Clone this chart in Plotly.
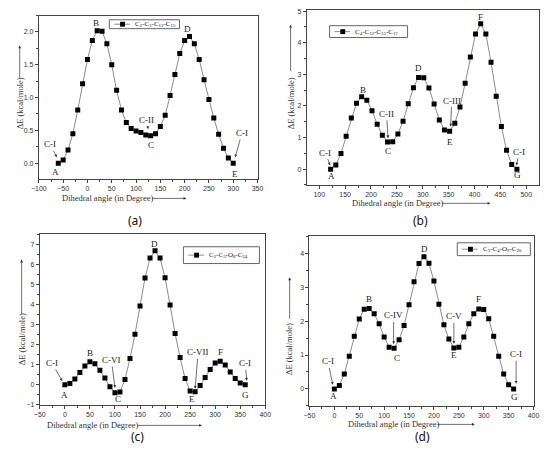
import plotly.graph_objects as go

W, H = 550, 457

# panel (a)  C2-C1-C12-C15
a_angle = [-60, -50, -40, -30, -20, -10, 0, 10, 20, 30, 40, 50, 60, 70, 80, 90, 100, 110, 120,
           130, 140, 150, 160, 170, 180, 190, 200, 210, 220, 230, 240, 250, 260, 270, 280, 290, 300]
a_energy = [0.0, 0.05, 0.2, 0.45, 0.81, 1.21, 1.58, 1.87, 2.02, 2.01, 1.82, 1.5, 1.11, 0.81, 0.62,
            0.53, 0.49, 0.47, 0.43, 0.42, 0.45, 0.56, 0.73, 1.03, 1.35, 1.67, 1.87, 1.93, 1.82, 1.58,
            1.27, 0.97, 0.69, 0.44, 0.23, 0.08, 0.0]

# panel (b)  C4-C12-C15-C17
b_angle = [122, 132, 142, 152, 162, 172, 182, 192, 202, 212, 222, 232, 242, 252, 262, 272, 282, 292,
           302, 312, 322, 332, 342, 352, 362, 372, 382, 392, 402, 412, 422, 432, 442, 452, 462, 472, 482]
b_energy = [0.0, 0.13, 0.5, 1.04, 1.62, 2.09, 2.29, 2.18, 1.85, 1.42, 1.07, 0.86, 0.87, 1.11, 1.52,
            2.07, 2.58, 2.9, 2.89, 2.57, 2.06, 1.56, 1.24, 1.2, 1.45, 1.97, 2.72, 3.55, 4.28, 4.6,
            4.28, 3.38, 2.31, 1.35, 0.6, 0.15, 0.0]

# panel (c)  C2-C3-O8-C24
c_angle = [0, 10, 20, 30, 40, 50, 60, 70, 80, 90, 100, 110, 120, 130, 140, 150, 160, 170, 180,
           190, 200, 210, 220, 230, 240, 250, 260, 270, 280, 290, 300, 310, 320, 330, 340, 350, 360]
c_energy = [0.0, 0.06, 0.28, 0.6, 0.93, 1.14, 1.04, 0.72, 0.33, -0.1, -0.4, -0.37, 0.26, 1.3, 2.52,
            3.92, 5.32, 6.32, 6.68, 6.32, 5.33, 3.97, 2.55, 1.35, 0.3, -0.32, -0.36, -0.04, 0.36,
            0.76, 1.08, 1.17, 0.98, 0.63, 0.3, 0.08, 0.0]

# panel (d)  C3-C4-O9-C20
d_angle = c_angle
d_energy = [0.0, 0.1, 0.44, 0.96, 1.55, 2.06, 2.35, 2.37, 2.22, 1.92, 1.53, 1.23, 1.2, 1.45, 1.87,
            2.48, 3.16, 3.7, 3.9, 3.71, 3.18, 2.5, 1.89, 1.47, 1.21, 1.23, 1.53, 1.92, 2.22, 2.36,
            2.34, 2.07, 1.55, 0.96, 0.44, 0.12, 0.0]

series_names = [
    "C<sub>2</sub>-C<sub>1</sub>-C<sub>12</sub>-C<sub>15</sub>",
    "C<sub>4</sub>-C<sub>12</sub>-C<sub>15</sub>-C<sub>17</sub>",
    "C<sub>2</sub>-C<sub>3</sub>-O<sub>8</sub>-C<sub>24</sub>",
    "C<sub>3</sub>-C<sub>4</sub>-O<sub>9</sub>-C<sub>20</sub>",
]
captions = ["(a)", "(b)", "(c)", "(d)"]

# point labels: (text, x, y)
a_labels = [("A", -66, -0.13), ("B", 17, 2.13), ("C", 131, 0.28), ("D", 206, 2.05), ("E", 303, -0.16)]
b_labels = [("A", 123, -0.21), ("B", 185, 2.52), ("C", 232, 0.57), ("D", 292, 3.19),
            ("E", 352, 0.85), ("F", 411, 4.83), ("G", 484, -0.2)]
c_labels = [("A", 0, -0.52), ("B", 50, 1.58), ("C", 107, -0.74), ("D", 178, 7.0),
            ("E", 254, -0.7), ("F", 311, 1.64), ("G", 360, -0.52)]
d_labels = [("A", -1, -0.21), ("B", 69, 2.66), ("C", 125, 0.9), ("D", 181, 4.12),
            ("E", 240, 1.0), ("F", 290, 2.66), ("G", 362, -0.24)]

# conformer arrows: (text, head x, head y, text x, text y)
a_arrows = [("C-I", -63, 0.09, -77, 0.29), ("C-II", 125, 0.52, 121, 0.66), ("C-I", 304, 0.09, 318, 0.46)]
b_arrows = [("C-I", 121, 0.12, 112, 0.52), ("C-II", 233, 0.98, 230, 1.75),
            ("C-III", 354, 1.35, 356, 2.17), ("C-I", 481, 0.12, 487, 0.55)]
c_arrows = [("C-I", -5, 0.18, -26, 1.07), ("C-VI", 100, -0.16, 93, 1.23),
            ("C-VII", 260, -0.2, 266, 1.61), ("C-I", 363, 0.2, 360, 1.07)]
d_arrows = [("C-I", -3, 0.12, -13, 0.81), ("C-IV", 119, 1.32, 119, 2.17),
            ("C-V", 240, 1.33, 240, 2.14), ("C-I", 365, 0.15, 365, 1.02)]

# layout of each panel (pixel positions are from the top-left of the page)
panels = [
    dict(x=a_angle, y=a_energy, labels=a_labels, arrows=a_arrows,
         xdom=[0.0576, 0.4655], ydom=[0.6098, 0.9722], xr=[-100, 350], yr=[-0.24, 2.25],
         ydt=0.5, yfmt=".1f", leg=(104, 17, 176, 26), cap=(130, 220),
         xt=(102, 198, 147, 183), yt=(12, 102, 77, 43)),
    dict(x=b_angle, y=b_energy, labels=b_labels, arrows=b_arrows,
         xdom=[0.5575, 0.99], ydom=[0.5965, 0.984], xr=[76, 524], yr=[-0.5, 5.03],
         ydt=1, yfmt="d", leg=(330, 23, 410, 35), cap=(423, 220),
         xt=(400, 203, 445, 495), yt=(290, 102, 70, 22)),
    dict(x=c_angle, y=c_energy, labels=c_labels, arrows=c_arrows,
         xdom=[0.0593, 0.48], ydom=[0.1094, 0.4869], xr=[-50, 400], yr=[-1, 7.5],
         ydt=1, yfmt="d", leg=(180, 247, 258, 264), cap=(133, 439),
         xt=(87, 428, 133, 199), yt=(14, 341, 316, 260)),
    dict(x=d_angle, y=d_energy, labels=d_labels, arrows=d_arrows,
         xdom=[0.5624, 0.9805], ydom=[0.1068, 0.4825], xr=[-50, 400], yr=[-0.5, 4.5],
         ydt=1, yfmt="d", leg=(461, 243, 536, 256), cap=(425, 439),
         xt=(396, 427, 440, 479), yt=(289, 351, 321, 278)),
]

serif = "Liberation Serif"
sans = "Liberation Sans"
axis_col = "#444444"
line_col = "#8c8c8c"

fig = go.Figure()
annotations = []
shapes = []
layout = dict(
    width=W, height=H,
    margin=dict(l=0, r=0, t=0, b=0),
    paper_bgcolor="white", plot_bgcolor="white",
    showlegend=False,
)


def px(x, y):
    return x / W, 1 - y / H


def paper_text(text, x, y, **kw):
    # centred text at a pixel position of the page
    fx, fy = px(x, y)
    d = dict(text=text, x=fx, y=fy, xref="paper", yref="paper", showarrow=False,
             xanchor="center", yanchor="middle")
    d.update(kw)
    return d


for i, p in enumerate(panels):
    n = "" if i == 0 else str(i + 1)
    xa, ya = "x" + n, "y" + n
    fig.add_trace(go.Scatter(
        x=p["x"], y=p["y"], mode="lines+markers",
        name=series_names[i],
        xaxis=xa, yaxis=ya,
        line=dict(color=line_col, width=1),
        marker=dict(symbol="square", size=5, color="black"),
    ))
    common = dict(
        showgrid=False, zeroline=False, showline=True, mirror=True,
        linecolor=axis_col, linewidth=1,
        ticks="outside", ticklen=3, tickcolor=axis_col, tickwidth=1,
        tickfont=dict(family=sans, size=7, color="#333333"),
    )
    layout["xaxis" + n] = dict(
        common, domain=p["xdom"], range=p["xr"], anchor=ya,
        dtick=50, tick0=0, minor=dict(dtick=25, ticklen=2, tickcolor=axis_col),
    )
    layout["yaxis" + n] = dict(
        common, domain=p["ydom"], range=p["yr"], anchor=xa,
        dtick=p["ydt"], tick0=0, tickformat=p["yfmt"],
        minor=dict(dtick=p["ydt"] / 2, ticklen=2, tickcolor=axis_col),
    )

    # legend box drawn by hand so it stays as small as the original one
    bx0, by0, bx1, by1 = p["leg"]
    ym = (by0 + by1) / 2
    x0, y0 = px(bx0, by1)
    x1, y1 = px(bx1, by0)
    shapes.append(dict(type="rect", xref="paper", yref="paper", x0=x0, y0=y0, x1=x1, y1=y1,
                       line=dict(color="#666666", width=1), fillcolor="white", layer="above"))
    l0 = px(bx0 + 5, ym)
    l1 = px(bx0 + 21, ym)
    shapes.append(dict(type="line", xref="paper", yref="paper", x0=l0[0], y0=l0[1], x1=l1[0], y1=l1[1],
                       line=dict(color=line_col, width=1), layer="above"))
    m0 = px(bx0 + 11, ym + 2.5)
    m1 = px(bx0 + 16, ym - 2.5)
    shapes.append(dict(type="rect", xref="paper", yref="paper", x0=m0[0], y0=m0[1], x1=m1[0], y1=m1[1],
                       line=dict(color="black", width=0), fillcolor="black", layer="above"))
    annotations.append(paper_text(series_names[i], bx0 + 24, ym, xanchor="left",
                                  font=dict(family=serif, size=7, color="#222222")))

    for t, x, y in p["labels"]:
        annotations.append(dict(
            text=t, x=x, y=y, xref=xa, yref=ya, showarrow=False,
            xanchor="center", yanchor="middle",
            font=dict(family=serif, size=9, color="#222222"),
        ))
    for t, hx, hy, tx, ty in p["arrows"]:
        annotations.append(dict(
            text=t, x=hx, y=hy, xref=xa, yref=ya, ax=tx, ay=ty, axref=xa, ayref=ya,
            showarrow=True, arrowhead=2, arrowsize=0.8, arrowwidth=0.7,
            arrowcolor="#333333", standoff=0,
            font=dict(family=serif, size=9, color="#222222"),
        ))

    # axis titles with their long arrows
    tx, ty, ax0, ax1 = p["xt"]
    annotations.append(paper_text("Dihedral angle (in Degree)", tx, ty,
                                  font=dict(family=serif, size=8.5, color="#333333")))
    hx, hy = px(ax1, ty)
    annotations.append(dict(
        text="", x=hx, y=hy, xref="paper", yref="paper",
        ax=ax0 - ax1, ay=0, showarrow=True, arrowhead=2, arrowsize=0.8,
        arrowwidth=0.7, arrowcolor="#333333", standoff=0,
    ))
    yx, yy, ay0, ay1 = p["yt"]
    annotations.append(paper_text("\u0394E (kcal/mole)", yx, yy, textangle=-90,
                                  font=dict(family=serif, size=8.5, color="#333333")))
    hx, hy = px(yx, ay1)
    annotations.append(dict(
        text="", x=hx, y=hy, xref="paper", yref="paper",
        ax=0, ay=ay0 - ay1, showarrow=True, arrowhead=2, arrowsize=0.8,
        arrowwidth=0.7, arrowcolor="#333333", standoff=0,
    ))
    cx, cy = p["cap"]
    annotations.append(paper_text(captions[i], cx, cy,
                                  font=dict(family="Noto Sans", size=12, color="#111111")))

layout["annotations"] = annotations
layout["shapes"] = shapes
fig.update_layout(**layout)

# page body margin would push the 550x457 figure off the window
fig.write_html("out.html", config={"displayModeBar": False},
               post_script="document.body.style.margin='0';document.body.style.overflow='hidden';")
